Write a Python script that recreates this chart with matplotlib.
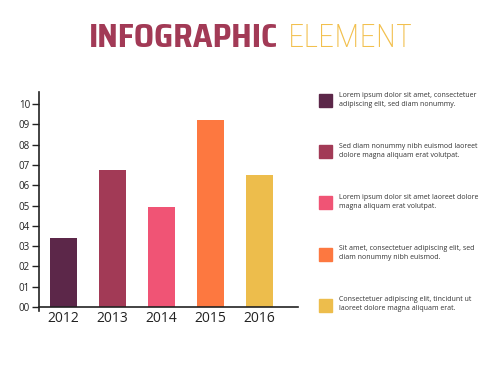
import numpy as np
import matplotlib
matplotlib.use('Agg')
import matplotlib.pyplot as plt

years = ['2012', '2013', '2014', '2015', '2016']
values = [3.38, 6.76, 4.91, 9.21, 6.50]
colors = ['#5C2749', '#A23A56', '#F05475', '#FD7840', '#EDBD4C']
yticks = list(range(0, 11))
ytick_labels = ['%02d' % t for t in yticks]
notes = [
    'Lorem ipsum dolor sit amet, consectetuer\nadipiscing elit, sed diam nonummy.',
    'Sed diam nonummy nibh euismod laoreet\ndolore magna aliquam erat volutpat.',
    'Lorem ipsum dolor sit amet laoreet dolore\nmagna aliquam erat volutpat.',
    'Sit amet, consectetuer adipiscing elit, sed\ndiam nonummy nibh euismod.',
    'Consectetuer adipiscing elit, tincidunt ut\nlaoreet dolore magna aliquam erat.',
]

plt.rcParams['font.family'] = 'Open Sans'

fig = plt.figure(figsize=(5, 3.75), dpi=100, facecolor='white')

# title
fig.text(278 / 500, 1 - 47 / 375, 'INFOGRAPHIC', ha='right', va='baseline', fontsize=23.8,
         color='#A23A56', family=['Saira SemiCondensed', 'Oswald'], weight=700,
         stretch='condensed')
fig.text(288 / 500, 1 - 47 / 375, 'ELEMENT', ha='left', va='baseline', fontsize=22.8,
         color='#F2C04E', family=['Saira SemiCondensed', 'Oswald'], weight=250,
         stretch='condensed')

# bar chart
ax = fig.add_axes([0.078, 1 - 311 / 375, 0.518, (311 - 92) / 375])
x = np.arange(len(years))
ax.bar(x, values, width=0.55, color=colors)
ax.set_xlim(-0.5, 4.79)
ax.set_ylim(-0.2, 10.6)
ax.spines['top'].set_visible(False)
ax.spines['right'].set_visible(False)
ax.spines['bottom'].set_position(('data', 0))
for s in ['left', 'bottom']:
    ax.spines[s].set_linewidth(1.2)
    ax.spines[s].set_color('#222222')
ax.set_yticks(yticks)
ax.set_yticklabels(ytick_labels, fontsize=7, color='#222222')
ax.set_xticks(x)
ax.set_xticklabels(years, fontsize=10, color='#222222')
ax.tick_params(axis='y', length=5, width=1, color='#222222', pad=1.5)
ax.tick_params(axis='x', length=0, pad=3)

# side notes
ys = [100.7, 151.7, 202.7, 254, 305]
for c, note, yp in zip(colors, notes, ys):
    fig.patches.append(plt.Rectangle((319 / 500, 1 - (yp + 6.5) / 375), 13 / 500, 13 / 375,
                                     transform=fig.transFigure, color=c, figure=fig))
    fig.text(339 / 500, 1 - (yp - 1) / 375, note, ha='left', va='center',
             fontsize=5, color='#333333', linespacing=1.35)

plt.savefig('out.png', dpi=100)
